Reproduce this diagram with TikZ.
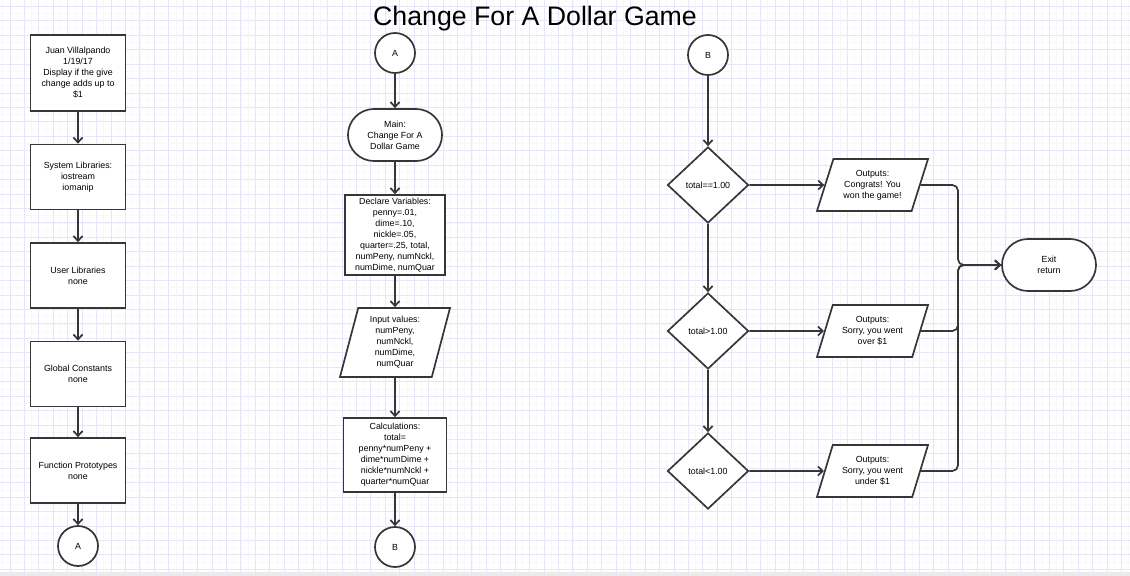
\documentclass[tikz,border=0pt]{standalone}
\usepackage{fontspec}
\setmainfont{Liberation Sans}
\usetikzlibrary{shapes.geometric,arrows.meta}
\definecolor{linegray}{HTML}{363636}
\definecolor{gridblue}{HTML}{E6E6FA}
\definecolor{gridfaint}{HTML}{F7F7FE}
\tikzset{flow/.style={draw=linegray,line width=1.2pt,-{Straight Barb[length=3.5pt,width=6.5pt]}}}
\tikzset{base/.style={draw=linegray,line width=1.2pt,fill=white,align=center,text=black,font=\fontsize{6.3}{7.8}\selectfont,inner sep=1pt}}
\tikzset{procbox/.style={base,rectangle,minimum width=2.375cm,minimum height=1.625cm}}
\tikzset{connector/.style={base,circle,minimum size=1cm}}
\tikzset{terminal/.style={base,rectangle,rounded corners=0.65cm,minimum width=2.35cm,minimum height=1.3cm}}
\tikzset{decision/.style={base,diamond,minimum width=2.025cm,minimum height=1.9cm,inner sep=0pt}}
\tikzset{io/.style={base,trapezium,trapezium stretches body=true,trapezium left angle=#1,trapezium right angle=180-#1}}

\begin{document}
\begin{tikzpicture}[x=0.025cm,y=-0.025cm]
    \useasboundingbox (0,0) rectangle (1130,576);
    \fill[white] (0,0) rectangle (1130,576);
    \begin{scope}[shift={(9.9,6.3)}]
      \draw[gridfaint,line width=0.4pt,step=0.180375cm] (-9.9,-6.3) grid (1120.1,565.7);
      \draw[gridblue,line width=0.5pt,step=0.36075cm] (-9.9,-6.3) grid (1120.1,565.7);
    \end{scope}
    \fill[black!8] (0,572) rectangle (1130,576);
    \node (title) at (535,19) {\fontsize{19}{22}\selectfont Change For A Dollar Game};
    % left column
    \node[procbox,minimum height=1.9cm] (hdr) at (78,73) {Juan Villalpando\\1/19/17\\Display if the give\\change adds up to\\\$1};
    \node[procbox] (syslib) at (78,177) {System Libraries:\\iostream\\iomanip};
    \node[procbox] (usrlib) at (78,275.5) {User Libraries\\none};
    \node[procbox] (glob) at (78,374) {Global Constants\\none};
    \node[procbox] (proto) at (78,470.5) {Function Prototypes\\none};
    \node[connector] (outA) at (78,546) {A};
    \draw[flow] (hdr) -- (syslib);
    \draw[flow] (syslib) -- (usrlib);
    \draw[flow] (usrlib) -- (glob);
    \draw[flow] (glob) -- (proto);
    \draw[flow] (proto) -- (outA);
    % middle column
    \node[connector] (inA) at (395,53) {A};
    \node[terminal] (main) at (395,135) {Main:\\Change For A\\Dollar Game};
    \node[procbox,minimum width=2.5cm,minimum height=2cm] (decl) at (395,235) {Declare Variables:\\penny=.01,\\dime=.10,\\nickle=.05,\\quarter=.25, total,\\numPeny, numNckl,\\numDime, numQuar};
    \node[io=71.6,minimum width=2.75cm,minimum height=1.725cm] (inp) at (395,342.5) {Input values:\\numPeny,\\numNckl,\\numDime,\\numQuar};
    \node[procbox,minimum width=2.575cm,minimum height=1.85cm] (calc) at (395,455) {Calculations:\\total=\\penny*numPeny +\\dime*numDime +\\nickle*numNckl +\\quarter*numQuar};
    \node[connector] (outB) at (395,547) {B};
    \draw[flow] (inA) -- (main);
    \draw[flow] (main) -- (decl);
    \draw[flow] (decl) -- (inp);
    \draw[flow] (inp) -- (calc);
    \draw[flow] (calc) -- (outB);
    % right part
    \node[connector] (inB) at (708,55) {B};
    \node[decision] (eq) at (708,185) {total==1.00};
    \node[decision] (gt) at (708,331) {total>1.00};
    \node[decision] (lt) at (708,471) {total<1.00};
    \node[io=63.4,minimum width=2.775cm,minimum height=1.3cm] (won) at (872.5,185) {Outputs:\\Congrats! You\\won the game!};
    \node[io=63.4,minimum width=2.775cm,minimum height=1.3cm] (over) at (872.5,331) {Outputs:\\Sorry, you went\\over \$1};
    \node[io=63.4,minimum width=2.775cm,minimum height=1.3cm] (under) at (872.5,471) {Outputs:\\Sorry, you went\\under \$1};
    \node[terminal] (exit) at (1049,265) {Exit\\return};
    \coordinate (jn) at (958,265);
    \draw[flow] (inB) -- (eq);
    \draw[flow] (eq) -- (gt);
    \draw[flow] (gt) -- (lt);
    \draw[flow] (eq) -- (won);
    \draw[flow] (gt) -- (over);
    \draw[flow] (lt) -- (under);
    \draw[flow,rounded corners=4pt] (won.east) -| (jn) -- (exit);
    \draw[flow,rounded corners=4pt] (over.east) -| (jn) -- (exit);
    \draw[flow,rounded corners=4pt] (under.east) -| (jn) -- (exit);
  \end{tikzpicture}
\end{document}
